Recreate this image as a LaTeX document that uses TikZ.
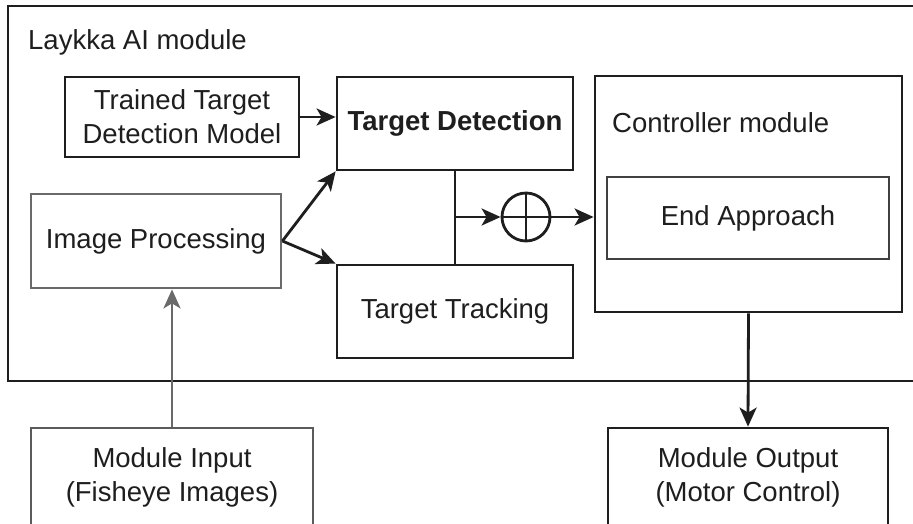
\documentclass[tikz,border=0pt]{standalone}
\usepackage{fontspec}
\setmainfont{Liberation Sans}
\usetikzlibrary{arrows.meta}
\definecolor{ink}{HTML}{1E1E1E}
\definecolor{softgray}{HTML}{6A6A6A}
\begin{document}
\begin{tikzpicture}[x=1pt,y=-1pt,
  box/.style={draw=ink,line width=2.8pt,rectangle,align=center,inner sep=0pt,
    font=\fontsize{27.5}{34}\selectfont,text=ink},
  graybox/.style={box,draw=softgray},
  conn/.style={draw=ink,line width=2.8pt,-{Stealth[length=19pt,width=17pt,inset=5pt]}},
  grayconn/.style={conn,draw=softgray,-{Stealth[length=19pt,width=17pt,inset=5pt]}},
  lbl/.style={font=\fontsize{27.5}{34}\selectfont,text=ink,inner sep=0pt}]
\useasboundingbox (0,0) rectangle (913,523);
\clip (0,0) rectangle (913,523);
\fill[white] (0,0) rectangle (913,523);
% outer module
\draw[ink,line width=2.8pt] (8,6) rectangle (940,381);
\node[lbl,anchor=west] (title) at (28,42) {Laykka AI module};
% boxes
\node[box,minimum width=234pt,minimum height=80pt] (trained) at (182,117) {Trained Target\\Detection Model};
\node[box,minimum width=236pt,minimum height=93pt,font=\fontsize{27.5}{34}\selectfont\bfseries] (det) at (455,123.5) {Target Detection};
\node[graybox,minimum width=250pt,minimum height=94pt] (imgp) at (156,241) {Image Processing};
\node[box,minimum width=236pt,minimum height=93pt] (track) at (455,311.5) {Target Tracking};
\node[box,minimum width=307pt,minimum height=236pt] (ctrl) at (748.5,194) {};
\node[lbl,anchor=west] (ctrllbl) at (612,123) {Controller module};
\node[box,draw=ink!85,minimum width=282pt,minimum height=82pt] (endap) at (748,218) {End Approach};
\node[draw=ink,line width=2.8pt,circle,minimum size=48pt,inner sep=0pt] (plus) at (526,217) {};
\draw[ink,line width=2.8pt] (plus.north) -- (plus.south) (plus.west) -- (plus.east);
\node[graybox,draw=softgray!80!ink,minimum width=282pt,minimum height=98pt] (input) at (172,477) {Module Input\\(Fisheye Images)};
\node[box,minimum width=280pt,minimum height=98pt] (output) at (748,477) {Module Output\\(Motor Control)};
% connectors
\coordinate (j) at (455,217);
\draw[ink,line width=2.8pt] (det.south) -- (track.north);
\draw[conn] (j) -- (plus.west);
\draw[conn] (plus.east) -- (plus.east -| ctrl.west);
\draw[conn] (trained.east) -- (trained.east -| det.west);
\draw[conn] (imgp.east) -- (det.south west);
\draw[conn] (imgp.east) -- (track.north west);
\draw[grayconn] (input.north) -- (input.north |- imgp.south);
\draw[conn] (ctrl.south) -- (output.north);
\end{tikzpicture}
\end{document}
